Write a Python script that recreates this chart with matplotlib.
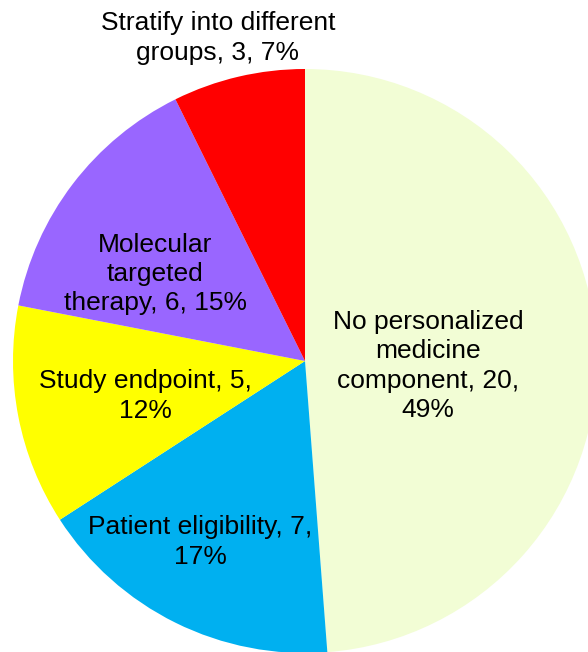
import numpy as np
import matplotlib.pyplot as plt

plt.rcParams['font.family'] = ['Liberation Sans', 'DejaVu Sans']

# data (clockwise from 12 o'clock)
categories = ['No personalized medicine component', 'Patient eligibility',
              'Study endpoint', 'Molecular targeted therapy',
              'Stratify into different groups']
counts = [20, 7, 5, 6, 3]
colors = ['#F2FDD5', '#00B0F0', '#FFFF00', '#9966FF', '#FF0000']

# label text as wrapped in the original
pct = [round(100 * c / sum(counts)) for c in counts]
label_text = [
    f'No personalized\nmedicine\ncomponent, {counts[0]},\n{pct[0]}%',
    f'Patient eligibility, {counts[1]},\n{pct[1]}%',
    f'Study endpoint, {counts[2]},\n{pct[2]}%',
    f'Molecular\ntargeted\ntherapy, {counts[3]}, {pct[3]}%',
    f'Stratify into different\ngroups, {counts[4]}, {pct[4]}%',
]

# layout in pixel units (y measured from the top)
W, H = 588, 652
center = (305, H - 361)
radius = 292
label_pos = [(428, 366), (200, 542), (145, 396), (155, 274), (218, 38)]

fig = plt.figure(figsize=(W / 100, H / 100), dpi=100)
ax = fig.add_axes([0, 0, 1, 1])

ax.pie(counts, colors=colors, startangle=90, counterclock=False,
       center=center, radius=radius, wedgeprops=dict(linewidth=0))

for txt, (x, y) in zip(label_text, label_pos):
    ax.text(x, H - y, txt, ha='center', va='center', multialignment='center',
            fontsize=19, linespacing=1.27, color='black')

ax.set_xlim(0, W)
ax.set_ylim(0, H)
ax.set_aspect('auto')
ax.axis('off')

fig.savefig('out.png', dpi=100)
